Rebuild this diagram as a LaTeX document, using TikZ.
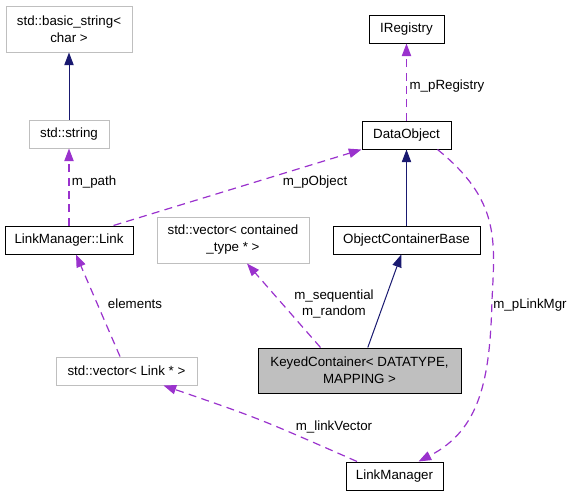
\documentclass[tikz,border=0pt]{standalone}
\usepackage{fontspec}
\setmainfont{Liberation Sans}
\usetikzlibrary{arrows.meta,calc}
\definecolor{dep}{HTML}{9A32CD}
\definecolor{inh}{HTML}{191970}
\definecolor{graybd}{HTML}{BFBFBF}
\definecolor{keyfill}{HTML}{BFBFBF}
\begin{document}
\begin{tikzpicture}[x=0.75pt,y=-0.75pt,
  box/.style={draw=black,line width=0.75pt,inner sep=0pt,minimum height=21pt,align=center,font=\fontsize{10}{12.75}\selectfont},
  gbox/.style={box,draw=graybd},
  lbl/.style={inner sep=0pt,align=center,font=\fontsize{10}{12}\selectfont},
  inhl/.style={draw=inh,line width=0.75pt,-{Triangle[length=9.5pt,width=7pt,fill=inh]}},
  dd/.style={draw=dep,line width=0.9pt,dash pattern=on 6pt off 4pt,-{Triangle[length=9.5pt,width=7pt,fill=dep]}},
]
\useasboundingbox (0,0) rectangle (572,496);
% nodes
\node[gbox,minimum width=94.5pt,minimum height=34.5pt] (bs) at (69,29) {std::basic\_string<\\char >};
\node[gbox,minimum width=60pt] (str) at (69,134) {std::string};
\node[box,minimum width=96pt] (link) at (69,240) {LinkManager::Link};
\node[gbox,minimum width=114pt,minimum height=34.5pt] (vcont) at (233,240) {std::vector< contained\\\_type * >};
\node[box,minimum width=56.25pt] (ireg) at (406.5,29) {IRegistry};
\node[box,minimum width=66.75pt] (dobj) at (406.5,135) {DataObject};
\node[box,minimum width=110.25pt] (ocb) at (406.5,240) {ObjectContainerBase};
\node[gbox,minimum width=105.75pt] (vlink) at (126.5,371) {std::vector< Link * >};
\node[box,fill=keyfill,minimum width=152.25pt,minimum height=33.75pt] (keyed) at (359.5,370.5) {KeyedContainer< DATATYPE,\\MAPPING >};
\node[box,minimum width=72.75pt] (lm) at (394.5,476) {LinkManager};
% inheritance
\draw[inhl] (str) -- (bs);
\draw[inhl] (ocb) -- (dobj);
\draw[inhl] (keyed) -- (ocb);
% dependencies
\draw[dd] (link) -- (str);
\draw[dd] ($(link.north east)+(-20,0)$) -- (dobj.south west);
\draw[dd] (dobj) -- (ireg);
\draw[dd] ($(keyed.north)+(-39,0)$) -- ($(vcont.south)+(14,0)$);
\draw[dd] ($(vlink.north)+(-6.5,0)$) -- ($(link.south)+(7,0)$);
\draw[dd] ($(lm.north)+(-37.5,0)$) .. controls (258,418) .. ($(vlink.south)+(37,0)$);
\draw[dd] ($(dobj.south east)+(-14,0)$) .. controls (500,200) and (495,240) .. (492,300) .. controls (490,380) and (480,430) .. ($(lm.north)+(24,0)$);
% labels
\node[lbl] (lpath) at (94,182) {m\_path};
\node[lbl] (lpobj) at (315,182) {m\_pObject};
\node[lbl] (lpreg) at (447,86) {m\_pRegistry};
\node[lbl] (lelem) at (135,304) {elements};
\node[lbl] (lseq) at (334,304) {m\_sequential\\m\_random};
\node[lbl] (lplm) at (530,305) {m\_pLinkMgr};
\node[lbl] (llv) at (334,427) {m\_linkVector};
\end{tikzpicture}
\end{document}
